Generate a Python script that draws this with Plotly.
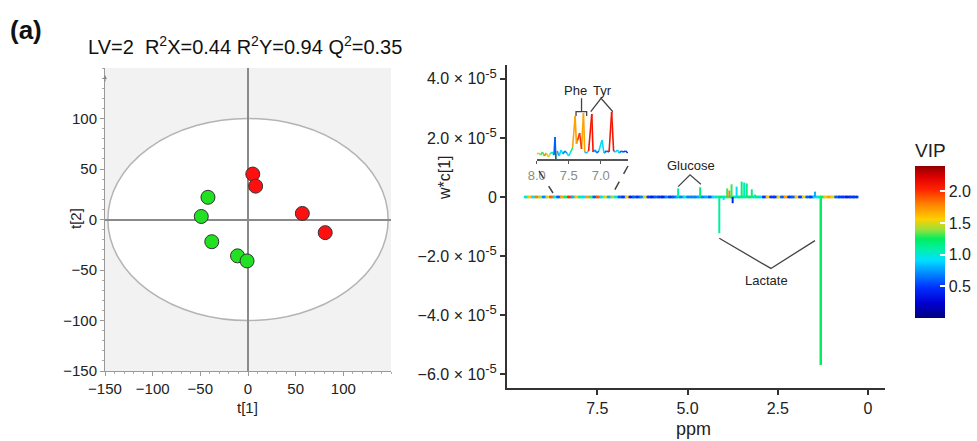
import numpy as np
import plotly.graph_objects as go
from plotly.colors import sample_colorscale

W, H = 977, 441
FONT = "Arial, Liberation Sans, sans-serif"

# ---------------- score plot data ----------------
red_t1 = [5, 8, 57, 81]
red_t2 = [45, 33, 6, -13]
green_t1 = [-42, -49, -38, -11, -1]
green_t2 = [22, 3, -22, -36, -41]
score_ticks = [-150, -100, -50, 0, 50, 100]

# ---------------- loading spectrum data ----------------
# baseline VIP, every 0.1 ppm from 9.5 down to 0.3
base_vip = [1.0, 1.6, 0.9, 1.8, 1.4, 0.7,
            1.5, 1.9, 1.0, 0.6, 1.7, 1.2, 2.0, 0.8, 1.6, 1.1,
            0.9, 1.7, 1.3, 0.6, 1.9, 1.0, 1.5, 0.8, 1.4, 1.0,
            0.6, 0.5, 1.6, 0.4, 0.6, 0.5, 0.7, 1.5, 0.5, 0.4,
            0.6, 0.5, 0.4, 0.7, 0.5, 0.6, 0.8, 0.7, 1.0, 0.7,
            0.7, 0.7, 0.8, 0.7, 0.8, 0.6, 0.9, 1.1, 1.2, 1.0,
            1.3, 1.2, 1.0, 1.2, 1.1, 1.3, 1.2, 1.0, 1.2, 0.9,
            0.5, 1.6, 0.5, 0.5, 1.5, 0.6, 1.7, 0.5, 0.6, 1.6,
            0.5, 1.5, 0.6, 0.5, 0.9, 1.0, 1.2, 1.6, 1.7, 1.5,
            0.6, 0.5, 0.5, 0.4, 0.5, 0.5, 0.5]
base_ppm = list(np.round(np.linspace(9.5, 0.3, len(base_vip)), 2))

peak_ppm = [5.26, 4.65, 4.12, 4.00, 3.90, 3.84, 3.78, 3.75, 3.64, 3.50, 3.43, 3.36, 3.22, 3.13, 1.47, 1.31]
peak_val = [0.29, 0.33, -1.23, -0.10, 0.29, 0.22, 0.43, -0.21, 0.35, 0.52, 0.49, 0.46, 0.26, 0.08, 0.18, -5.69]  # x 1e-5
peak_vip = [1.1, 1.2, 1.1, 0.9, 1.3, 1.8, 1.3, 0.4, 0.9, 1.2, 1.0, 1.2, 1.2, 1.0, 0.8, 1.25]

# inset (aromatic region, magnified, arbitrary units)
inset_ppm = [8.00, 7.97, 7.94, 7.91, 7.88, 7.85, 7.82, 7.79, 7.76, 7.73, 7.714, 7.70, 7.68, 7.65, 7.62,
             7.59, 7.56, 7.53, 7.50, 7.47, 7.44, 7.40, 7.38, 7.36, 7.33, 7.30, 7.27, 7.25, 7.22, 7.19,
             7.14, 7.12, 7.09, 7.06, 7.03, 6.98, 6.95, 6.91, 6.87, 6.83, 6.80, 6.77, 6.74, 6.71, 6.68,
             6.65, 6.61, 6.58]
inset_val = [0, 1, -1, 2, -2, 1, -3, 0, 2, -1, 17, -8, 3, -2, 4,
             0, 3, 1, -2, 2, 6, 38, 10, 14, 21, 5, 41, 2, 1, 3,
             40, 2, 4, 1, 3, 14, 1, 3, 2, 42, 3, 2, 4, 1, 3,
             2, 3, 1]
inset_vip = [1.0, 1.6, 0.5, 1.3, 1.8, 0.6, 1.5, 0.8, 1.0, 0.6, 0.6, 1.5, 0.8, 0.4, 0.9,
             1.3, 0.7, 0.5, 1.0, 0.6, 1.2, 1.7, 1.3, 1.2, 2.0, 0.9, 1.7, 0.8, 0.6, 1.0,
             2.1, 0.9, 0.7, 1.1, 0.6, 0.9, 0.7, 0.6, 1.1, 2.1, 0.8, 0.5, 0.9, 0.5, 0.6,
             0.4, 0.5, 0.6]

SUP = "<sup><span style='font-size:13px'>-5</span></sup>"
spec_yticks = [4e-5, 2e-5, 0, -2e-5, -4e-5, -6e-5]
spec_yticktext = ["4.0 × 10" + SUP, "2.0 × 10" + SUP, "0",
                  "−2.0 × 10" + SUP, "−4.0 × 10" + SUP, "−6.0 × 10" + SUP]
spec_xticks = [7.5, 5.0, 2.5, 0]
spec_xticktext = ["7.5", "5.0", "2.5", "0"]
inset_xticks = [8.0, 7.5, 7.0]
inset_xticktext = ["8.0", "7.5", "7.0"]
vip_ticks = [0.5, 1.0, 1.5, 2.0]
vip_ticktext = ["0.5", "1.0", "1.5", "2.0"]
VIP_MIN, VIP_MAX = 0.0, 2.4

VIP_SCALE = [[0.0, "rgb(0,0,128)"], [0.1, "rgb(0,0,210)"], [0.2, "rgb(0,48,255)"],
             [0.3, "rgb(0,144,255)"], [0.38, "rgb(0,224,255)"], [0.45, "rgb(0,240,170)"],
             [0.52, "rgb(0,238,96)"], [0.58, "rgb(150,225,60)"], [0.65, "rgb(255,208,0)"],
             [0.75, "rgb(255,128,0)"], [0.85, "rgb(255,32,0)"], [0.93, "rgb(220,0,0)"],
             [1.0, "rgb(144,0,0)"]]


def px_x(p):
    return p / W


def px_y(p):
    return 1 - p / H


def vip_color(v):
    t = min(max((v - VIP_MIN) / (VIP_MAX - VIP_MIN), 0), 1)
    return sample_colorscale(VIP_SCALE, [t])[0]


fig = go.Figure()


def add_segments(xs, ys, cs, width, xa, ya):
    groups = {}
    for i in range(len(xs) - 1):
        key = round(cs[i], 2)
        gx, gy = groups.setdefault(key, ([], []))
        gx += [xs[i], xs[i + 1], None]
        gy += [ys[i], ys[i + 1], None]
    for key, (gx, gy) in groups.items():
        fig.add_trace(go.Scatter(x=gx, y=gy, mode="lines", xaxis=xa, yaxis=ya,
                                 line=dict(color=vip_color(key), width=width),
                                 hoverinfo="skip", showlegend=False))


# ---------------- score plot ----------------
fig.add_trace(go.Scatter(x=green_t1, y=green_t2, mode="markers", xaxis="x", yaxis="y",
                         marker=dict(size=14, color="#22e022", line=dict(color="#333", width=1)),
                         showlegend=False))
fig.add_trace(go.Scatter(x=red_t1, y=red_t2, mode="markers", xaxis="x", yaxis="y",
                         marker=dict(size=14, color="#ff1010", line=dict(color="#333", width=1)),
                         showlegend=False))

# ---------------- spectrum ----------------
add_segments(base_ppm, [0] * len(base_ppm), base_vip, 2.6, "x2", "y2")
fig.add_trace(go.Scatter(x=base_ppm, y=[0] * len(base_ppm), mode="markers", xaxis="x2", yaxis="y2",
                         marker=dict(size=2.5, symbol="square", color=base_vip, colorscale=VIP_SCALE,
                                     cmin=VIP_MIN, cmax=VIP_MAX, showscale=True,
                                     colorbar=dict(
                                         title=dict(text="VIP", side="top", font=dict(size=19, family=FONT, color="#222")),
                                         thickness=30, len=178 / H, lenmode="fraction",
                                         x=px_x(915), xanchor="left", y=px_y(140), yanchor="top",
                                         tickvals=vip_ticks, ticktext=vip_ticktext, ticks="inside",
                                         ticklen=5, tickcolor="white", tickwidth=1.5, outlinewidth=0,
                                         tickfont=dict(size=16, family=FONT, color="#222"),
                                         xpad=0, ypad=0)),
                         hoverinfo="skip", showlegend=False))
for p, v, c in zip(peak_ppm, peak_val, peak_vip):
    grp_w = 2.5 if abs(v) > 3 else 2
    fig.add_trace(go.Scatter(x=[p, p], y=[0, v * 1e-5], mode="lines", xaxis="x2", yaxis="y2",
                             line=dict(color=vip_color(c), width=grp_w),
                             hoverinfo="skip", showlegend=False))

# inset
seg_c = []
for i in range(len(inset_ppm) - 1):
    seg_c.append(inset_vip[i] if abs(inset_val[i]) >= abs(inset_val[i + 1]) else inset_vip[i + 1])
seg_c.append(inset_vip[-1])
add_segments(inset_ppm, inset_val, seg_c, 1.6, "x3", "y3")

# ---------------- shapes ----------------
shapes = [
    dict(type="rect", xref="x", yref="y", x0=-150, x1=150, y0=-150, y1=150,
         fillcolor="#f2f2f2", line=dict(width=0), layer="below"),
    dict(type="circle", xref="x", yref="y", x0=-147, x1=147, y0=-100, y1=100,
         fillcolor="white", line=dict(color="#b4b4b4", width=1.5), layer="below"),
]
line_col = "#444"
shapes.append(dict(type="path", xref="x2", yref="y2",
                   path="M 5.26 0.35e-5 L 4.93 0.75e-5 L 4.63 0.43e-5",
                   line=dict(color=line_col, width=1.3)))
shapes.append(dict(type="path", xref="x2", yref="y2",
                   path="M 4.12 -1.40e-5 L 2.69 -2.42e-5 L 1.47 -1.48e-5",
                   line=dict(color=line_col, width=1.3)))
shapes.append(dict(type="path", xref="x3", yref="y3",
                   path="M 7.386 38 L 7.386 42.3 L 7.22 42.3 L 7.22 38",
                   line=dict(color=line_col, width=1.3)))
shapes.append(dict(type="line", xref="x3", yref="y3", x0=7.30, x1=7.30, y0=42.3, y1=55.7,
                   line=dict(color=line_col, width=1.3)))
shapes.append(dict(type="path", xref="x3", yref="y3",
                   path="M 7.156 42.3 L 6.995 55.7 L 6.812 42.3",
                   line=dict(color=line_col, width=1.3)))
shapes.append(dict(type="line", xref="paper", yref="paper", x0=px_x(539), y0=px_y(171),
                   x1=px_x(553), y1=px_y(193), line=dict(color=line_col, width=1.5, dash="dash")))
shapes.append(dict(type="line", xref="paper", yref="paper", x0=px_x(628), y0=px_y(166),
                   x1=px_x(613), y1=px_y(193), line=dict(color=line_col, width=1.5, dash="dash")))


def label(text, x, y, size, xref="paper", yref="paper", angle=0, xanchor="center", color="#222"):
    if xref == "paper":
        x = px_x(x)
    if yref == "paper":
        y = px_y(y)
    return dict(text=text, x=x, y=y, xref=xref, yref=yref, xanchor=xanchor, yanchor="middle",
                showarrow=False, textangle=angle, font=dict(size=size, family=FONT, color=color))


ann = [
    label("<b>(a)</b>", 8, 30, 26, xanchor="left", color="#111"),
    label("LV=2  R<sup>2</sup>X=0.44 R<sup>2</sup>Y=0.94 Q<sup>2</sup>=0.35", 86, 45, 20,
          xanchor="left", color="#111"),
    label("t[1]", 248, 407, 15),
    label("t[2]", 75, 219, 15, angle=-90),
    label("w*c[1]", 445, 178, 16, angle=-90),
    label("ppm", 693, 429, 18),
    label("Glucose", 4.91, 1.08e-5, 13, xref="x2", yref="y2"),
    label("Lactate", 2.8, -2.82e-5, 13, xref="x2", yref="y2"),
    label("Phe", 575, 91, 13),
    label("Tyr", 602, 90, 13),
    dict(text="", x=-150, y=143, xref="x", yref="y", ax=0, ay=8,
         showarrow=True, arrowhead=2, arrowsize=0.8, arrowwidth=1, arrowcolor="#888"),
    dict(text="", x=152, y=-150, xref="x", yref="y", ax=-8, ay=0,
         showarrow=True, arrowhead=2, arrowsize=0.8, arrowwidth=1, arrowcolor="#888"),
]

tickfont = dict(size=15, family=FONT, color="#222")
spec_tickfont = dict(size=16, family=FONT, color="#222")
fig.update_layout(
    width=W, height=H, autosize=False,
    margin=dict(l=0, r=0, t=0, b=0, pad=0),
    paper_bgcolor="white", plot_bgcolor="rgba(0,0,0,0)",
    font=dict(family=FONT),
    shapes=shapes, annotations=ann,
    xaxis=dict(domain=[px_x(105), px_x(391)], range=[-150, 150], anchor="y", automargin=False,
               tickvals=score_ticks, ticks="outside", ticklen=4, tickcolor="#999",
               showline=True, linecolor="#999", linewidth=1, showgrid=False,
               zeroline=True, zerolinecolor="#8a8a8a", zerolinewidth=1.5,
               minor=dict(ticks="outside", ticklen=2, dtick=10, tickcolor="#aaa", showgrid=False),
               tickfont=tickfont),
    yaxis=dict(domain=[px_y(371), px_y(68)], range=[-150, 150], anchor="x", automargin=False,
               tickvals=score_ticks, ticks="outside", ticklen=4, tickcolor="#999",
               showline=True, linecolor="#999", linewidth=1, showgrid=False,
               zeroline=True, zerolinecolor="#8a8a8a", zerolinewidth=1.5,
               minor=dict(ticks="outside", ticklen=2, dtick=10, tickcolor="#aaa", showgrid=False),
               tickfont=tickfont),
    xaxis2=dict(domain=[px_x(507), px_x(885)], range=[10.0, -0.47], anchor="y2", automargin=False,
                tickvals=spec_xticks, ticktext=spec_xticktext, ticks="outside", ticklen=5,
                tickwidth=1.5, tickcolor="#333", showline=True, linecolor="#333", linewidth=2,
                showgrid=False, zeroline=False, tickfont=spec_tickfont),
    yaxis2=dict(domain=[px_y(388), px_y(65)], range=[-6.47e-5, 4.47e-5], anchor="x2", automargin=False,
                tickvals=spec_yticks, ticktext=spec_yticktext, ticks="outside", ticklen=5,
                tickwidth=1.5, tickcolor="#333", showline=True, linecolor="#333", linewidth=2,
                showgrid=False, zeroline=False, tickfont=spec_tickfont),
    xaxis3=dict(domain=[px_x(536.7), px_x(628.3)], range=[8.0, 6.57], anchor="y3", automargin=False,
                tickvals=inset_xticks, ticktext=inset_xticktext, ticks="outside", ticklen=3,
                tickcolor="#555", showline=True, linecolor="#555", linewidth=1.5,
                showgrid=False, zeroline=False,
                tickfont=dict(size=13, family=FONT, color="#8a8a8a")),
    yaxis3=dict(domain=[px_y(159.3), px_y(95)], range=[-5.3, 59], anchor="x3", visible=False,
                automargin=False),
)

fig.write_html("out.html")
